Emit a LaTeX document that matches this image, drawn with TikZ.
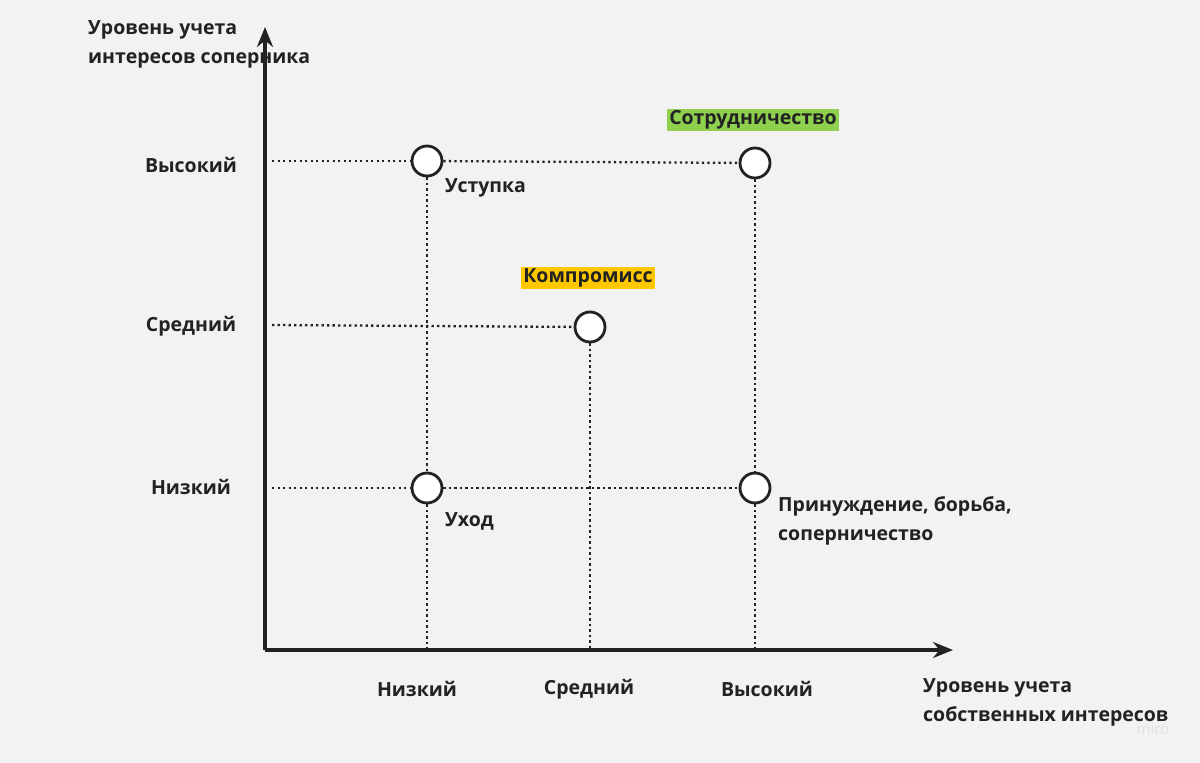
\documentclass[tikz,border=0pt]{standalone}
\usepackage{fontspec}
\setmainfont{Open Sans}
\usetikzlibrary{arrows.meta}
\definecolor{bg}{HTML}{F2F2F2}
\definecolor{ink}{HTML}{222222}
\definecolor{grn}{HTML}{8FD14F}
\definecolor{ylw}{HTML}{FFC800}
\begin{document}
\begin{tikzpicture}[x=1pt,y=-1pt,
  lbl/.style={font=\bfseries\fontsize{19.5}{29}\selectfont,text=ink,inner sep=2pt},
  pt/.style={circle,draw=ink,line width=2.8pt,fill=white,minimum size=30pt,inner sep=0pt},
  dots/.style={ink,dotted,line width=2.3pt,dash pattern=on 2.3pt off 3.2pt},
  ax/.style={ink,line width=3.2pt,-{Stealth[length=20pt,width=16pt]}}]
\fill[bg] (0,0) rectangle (1200,763);
\useasboundingbox (0,0) rectangle (1200,763);
\coordinate (o) at (265,650);
\coordinate (ytop) at (265,27);
\coordinate (xend) at (953,650);
\coordinate (yh) at (272,161);
\coordinate (ym) at (272,325);
\coordinate (yl) at (272,488);
\coordinate (bx1) at (427,650);
\coordinate (bx2) at (590,650);
\coordinate (bx3) at (755,650);
\node[pt] (a) at (427,161) {};
\node[pt] (b) at (755,163) {};
\node[pt] (c) at (590,327) {};
\node[pt] (d) at (427,488) {};
\node[pt] (e) at (755,488) {};
\draw[dots] (yh) -- (a); \draw[dots] (a) -- (b);
\draw[dots] (ym) -- (c);
\draw[dots] (yl) -- (d); \draw[dots] (d) -- (e);
\draw[dots] (a) -- (d); \draw[dots] (d) -- (bx1);
\draw[dots] (c) -- (bx2);
\draw[dots] (b) -- (e); \draw[dots] (e) -- (bx3);
\draw[ax] (o) -- (ytop);
\draw[ax] (o) -- (xend);
\node[lbl] (lh) at (191,165) {Высокий};
\node[lbl] (lm) at (191,326) {Средний};
\node[lbl] (ll) at (191,487) {Низкий};
\node[lbl] (bl) at (417,689) {Низкий};
\node[lbl] (bm) at (589,689) {Средний};
\node[lbl] (bh) at (767,689) {Высокий};
\node[lbl,anchor=north west,align=left] (yt) at (86,18) {Уровень учета\\интересов соперника};
\node[lbl,anchor=north west,align=left] (xt) at (921,676) {Уровень учета\\собственных интересов};
\node[lbl,anchor=west] (t1) at (443,188) {Уступка};
\node[lbl,anchor=west] (t2) at (443,521) {Уход};
\node[lbl,anchor=north west,align=left] (t3) at (776,494) {Принуждение, борьба,\\соперничество};
\node[lbl,fill=ylw] (t4) at (588,278) {Компромисс};
\node[lbl,fill=grn] (t5) at (753,120) {Сотрудничество};
\node[font=\fontsize{15}{15}\selectfont,text=black!12] (w) at (1153,729) {miro};
\end{tikzpicture}
\end{document}
